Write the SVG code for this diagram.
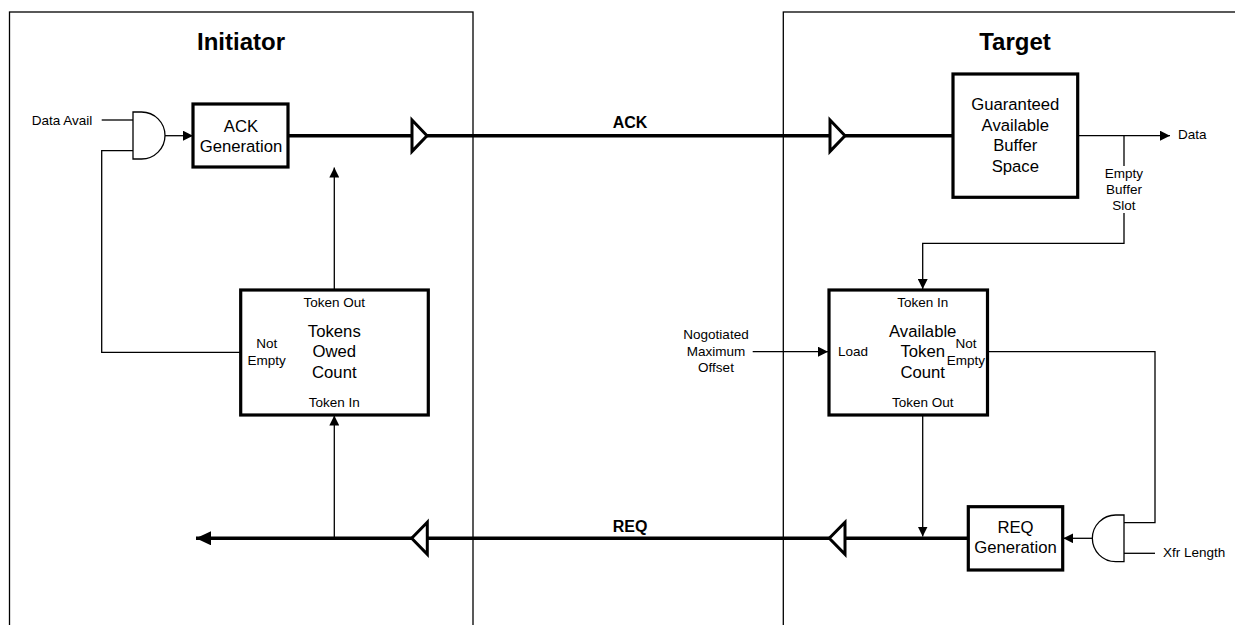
<svg xmlns="http://www.w3.org/2000/svg" width="1235" height="625" viewBox="0 0 1235 625">
<style>
text{font-family:"Liberation Sans",Arial,sans-serif;fill:#000}
.t{font-size:24px;font-weight:bold;text-anchor:middle}
.b{font-size:16px;font-weight:bold;text-anchor:middle}
.m{font-size:16.7px;text-anchor:middle}
.s{font-size:13.5px;text-anchor:middle}
.sl{font-size:13.5px}
.panel{fill:none;stroke:#000;stroke-width:1.3}
.box{fill:#fff;stroke:#000;stroke-width:3.2}
.thin{fill:none;stroke:#000;stroke-width:1.3}
.thick{fill:none;stroke:#000;stroke-width:3.5}
.buf{fill:#fff;stroke:#000;stroke-width:3;stroke-linejoin:miter}
.gate{fill:#fff;stroke:#000;stroke-width:1.3}
</style>
<defs>
<marker id="ah" markerUnits="userSpaceOnUse" markerWidth="10" markerHeight="10" refX="10" refY="5" orient="auto">
<path d="M0,0 L10,5 L0,10 z" fill="#000"/>
</marker>
<marker id="bh" markerUnits="userSpaceOnUse" markerWidth="16" markerHeight="14" refX="15" refY="7" orient="auto">
<path d="M0,0 L15,7 L0,14 z" fill="#000"/>
</marker>
</defs>
<rect width="1235" height="625" fill="#fff"/>
<g id="initiator-panel">
<rect class="panel" x="9.5" y="12" width="463.5" height="640"/>
<text class="t" x="241" y="50">Initiator</text>
</g>
<g id="target-panel">
<rect class="panel" x="783.3" y="12" width="480" height="640"/>
<text class="t" x="1015" y="50">Target</text>
</g>
<g id="connectors">
<line class="thin" x1="101.7" y1="120" x2="133" y2="120"/>
<polyline class="thin" points="240.7,352.3 101.7,352.3 101.7,150.7 133,150.7"/>
<line class="thin" x1="165" y1="135.7" x2="193" y2="135.7" marker-end="url(#ah)"/>
<line class="thick" x1="288" y1="135.7" x2="953" y2="135.7"/>
<line class="thin" x1="334.3" y1="290" x2="334.3" y2="167.5" marker-end="url(#ah)"/>
<line class="thin" x1="334.3" y1="538.3" x2="334.3" y2="415.5" marker-end="url(#ah)"/>
<line class="thin" x1="1077.7" y1="135.7" x2="1170" y2="135.7" marker-end="url(#ah)"/>
<line class="thin" x1="1124" y1="135.7" x2="1124" y2="166"/>
<polyline class="thin" points="1124,213 1124,243.3 922.7,243.3 922.7,289" marker-end="url(#ah)"/>
<line class="thin" x1="752.7" y1="351.7" x2="828" y2="351.7" marker-end="url(#ah)"/>
<line class="thin" x1="922.7" y1="415" x2="922.7" y2="536.5" marker-end="url(#ah)"/>
<polyline class="thin" points="987.5,351.7 1155,351.7 1155,522.7 1124,522.7"/>
<line class="thin" x1="1124" y1="553.3" x2="1155" y2="553.3"/>
<line class="thin" x1="1092.5" y1="538.3" x2="1063.3" y2="538.3" marker-end="url(#ah)"/>
<line class="thick" x1="968.3" y1="538.3" x2="196" y2="538.3" marker-end="url(#bh)"/>
<polygon class="buf" points="412,120 427,135.7 412,151.4"/>
<polygon class="buf" points="830,120 845,135.7 830,151.4"/>
<polygon class="buf" points="427.3,522.3 411.7,538.3 427.3,554.3"/>
<polygon class="buf" points="845,522.3 829.3,538.3 845,554.3"/>
<text class="b" x="630" y="128">ACK</text>
<text class="b" x="630" y="532">REQ</text>
<text class="sl" x="31.7" y="124.5">Data Avail</text>
<text class="sl" x="1178" y="139.3">Data</text>
<text class="s" x="1124" y="178">Empty</text>
<text class="s" x="1124" y="194">Buffer</text>
<text class="s" x="1124" y="210">Slot</text>
<text class="s" x="716" y="339">Nogotiated</text>
<text class="s" x="716" y="355.5">Maximum</text>
<text class="s" x="716" y="372">Offset</text>
<text class="sl" x="1163" y="557">Xfr Length</text>
</g>
<g id="and-gate-initiator">
<path class="gate" d="M133,112 H141.5 A23.5,23.5 0 0 1 141.5,159 H133 Z"/>
</g>
<g id="ack-generation">
<rect class="box" x="193" y="104" width="95" height="63"/>
<text class="m" x="241" y="131.7">ACK</text>
<text class="m" x="241" y="152">Generation</text>
</g>
<g id="tokens-owed-count">
<rect class="box" x="240.7" y="290" width="187.6" height="125"/>
<text class="s" x="334.3" y="306.7">Token Out</text>
<text class="m" x="334.3" y="336.7">Tokens</text>
<text class="m" x="334.3" y="357.3">Owed</text>
<text class="m" x="334.3" y="377.7">Count</text>
<text class="s" x="334.3" y="406.7">Token In</text>
<text class="s" x="266.7" y="347.7">Not</text>
<text class="s" x="266.7" y="365">Empty</text>
</g>
<g id="guaranteed-buffer">
<rect class="box" x="953" y="74" width="124.7" height="123.3"/>
<text class="m" x="1015.3" y="110">Guaranteed</text>
<text class="m" x="1015.3" y="130.5">Available</text>
<text class="m" x="1015.3" y="151">Buffer</text>
<text class="m" x="1015.3" y="171.7">Space</text>
</g>
<g id="available-token-count">
<rect class="box" x="829" y="290" width="158.5" height="125"/>
<text class="s" x="922.7" y="306.7">Token In</text>
<text class="m" x="922.7" y="336.7">Available</text>
<text class="m" x="922.7" y="357.3">Token</text>
<text class="m" x="922.7" y="377.7">Count</text>
<text class="s" x="922.7" y="406.7">Token Out</text>
<text class="s" x="853" y="356">Load</text>
<text class="s" x="966" y="347.7">Not</text>
<text class="s" x="966" y="365">Empty</text>
</g>
<g id="req-generation">
<rect class="box" x="968.3" y="506.7" width="94.4" height="63.3"/>
<text class="m" x="1015.5" y="532.7">REQ</text>
<text class="m" x="1015.5" y="553.3">Generation</text>
</g>
<g id="and-gate-target">
<path class="gate" d="M1124,515 H1115.7 A23.35,23.35 0 0 0 1115.7,561.7 H1124 Z"/>
</g>
</svg>
